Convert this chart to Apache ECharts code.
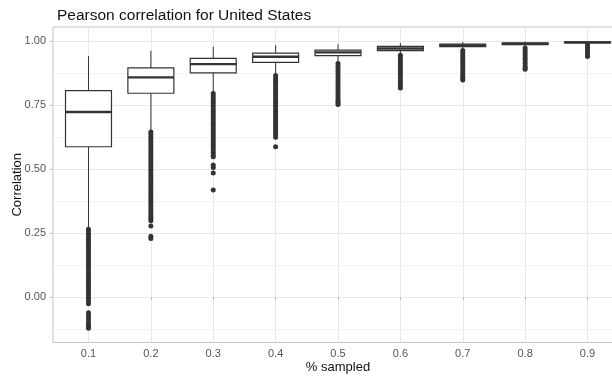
<!DOCTYPE html>
<html>
<head>
<meta charset="utf-8">
<script src="https://cdn.jsdelivr.net/npm/echarts@6/dist/echarts.min.js"></script>
<style>html,body{margin:0;padding:0;background:#fff}#c{width:612px;height:381px}</style>
</head>
<body>
<div id="c"></div>
<script>
const categories = [0.1, 0.2, 0.3, 0.4, 0.5, 0.6, 0.7, 0.8, 0.9];
const whiskerLow  = [0.270, 0.650, 0.800, 0.870, 0.915, 0.948, 0.966, 0.976, 0.987];
const q1          = [0.587, 0.796, 0.876, 0.917, 0.943, 0.963, 0.978, 0.986, 0.993];
const median      = [0.723, 0.858, 0.910, 0.939, 0.956, 0.971, 0.983, 0.989, 0.995];
const q3          = [0.806, 0.895, 0.932, 0.953, 0.965, 0.979, 0.988, 0.993, 0.997];
const whiskerHigh = [0.941, 0.962, 0.978, 0.984, 0.988, 0.992, 0.996, 0.998, 1.000];
const outliers = [
  [0.265,0.255,0.245,0.235,0.225,0.215,0.205,0.195,0.185,0.175,0.165,0.155,0.145,0.135,0.125,0.115,0.105,0.095,0.085,0.075,0.065,0.055,0.045,0.035,0.025,0.015,0.005,-0.005,-0.015,-0.027,-0.062,-0.072,-0.085,-0.098,-0.108,-0.115,-0.122],
  [0.645,0.635,0.625,0.615,0.605,0.595,0.585,0.575,0.565,0.555,0.545,0.535,0.525,0.515,0.505,0.495,0.485,0.475,0.465,0.455,0.445,0.435,0.425,0.415,0.405,0.395,0.385,0.375,0.365,0.355,0.345,0.335,0.325,0.315,0.307,0.298,0.277,0.237,0.228],
  [0.795,0.785,0.775,0.765,0.755,0.745,0.735,0.725,0.715,0.705,0.695,0.685,0.675,0.665,0.655,0.645,0.635,0.625,0.615,0.605,0.595,0.585,0.575,0.565,0.555,0.548,0.516,0.506,0.484,0.418],
  [0.865,0.855,0.845,0.835,0.825,0.815,0.805,0.795,0.785,0.775,0.765,0.755,0.745,0.735,0.725,0.715,0.705,0.695,0.685,0.675,0.665,0.655,0.645,0.635,0.624,0.587],
  [0.912,0.902,0.892,0.882,0.872,0.862,0.852,0.842,0.832,0.822,0.812,0.802,0.792,0.782,0.772,0.765,0.758,0.752],
  [0.945,0.935,0.925,0.915,0.905,0.895,0.885,0.875,0.865,0.855,0.845,0.835,0.825,0.817],
  [0.963,0.953,0.943,0.933,0.923,0.913,0.903,0.893,0.883,0.873,0.863,0.855,0.848],
  [0.973,0.963,0.953,0.943,0.933,0.923,0.913,0.903,0.895,0.890],
  [0.985,0.975,0.965,0.955,0.945,0.940]
];
const xTicks = [0.1, 0.2, 0.3, 0.4, 0.5, 0.6, 0.7, 0.8, 0.9];
const yTicks = [0, 0.25, 0.5, 0.75, 1.0];
const yMinorTicks = [-0.125, 0.125, 0.375, 0.625, 0.875];

const boxData = categories.map((c, i) => [c, whiskerLow[i], q1[i], median[i], q3[i], whiskerHigh[i]]);
const outlierData = [];
categories.forEach((c, i) => outliers[i].forEach(v => outlierData.push([c, v])));

const FONT = '"Liberation Sans", Arial, sans-serif';
const INK = '#333333';

const chart = echarts.init(document.getElementById('c'), null, {renderer: 'canvas'});
chart.setOption({
  animation: false,
  backgroundColor: '#ffffff',
  title: {
    text: 'Pearson correlation for United States',
    left: 52, top: 3,
    textStyle: {fontFamily: FONT, fontSize: 15.5, fontWeight: 'normal', color: '#111'}
  },
  grid: {
    left: 53, right: -11, top: 27, bottom: 38.5,
    outerBoundsMode: 'none', containLabel: false,
    show: true, borderColor: '#c4c4c4', borderWidth: 1, backgroundColor: '#fff'
  },
  xAxis: {
    type: 'value', min: 0.0431, max: 0.9569,
    name: '% sampled', nameLocation: 'middle', nameGap: 18, nameMoveOverlap: false,
    nameTextStyle: {fontFamily: FONT, fontSize: 13, color: '#111'},
    axisLine: {show: false},
    axisTick: {show: true, length: 3, lineStyle: {color: '#b8b8b8'}, customValues: xTicks},
    axisLabel: {customValues: xTicks, margin: 6, fontFamily: FONT, fontSize: 11, color: '#555',
      formatter: v => v.toFixed(1)},
    splitLine: {show: true, lineStyle: {color: '#e8e8e8', width: 1}}
  },
  yAxis: [{
    type: 'value', min: -0.178, max: 1.055,
    name: 'Correlation', nameLocation: 'middle', nameGap: 29, nameMoveOverlap: false,
    nameTextStyle: {fontFamily: FONT, fontSize: 13, color: '#111'},
    axisLine: {show: false},
    axisTick: {show: true, length: 3, lineStyle: {color: '#b8b8b8'}, customValues: yTicks},
    axisLabel: {customValues: yTicks, margin: 7, fontFamily: FONT, fontSize: 11, color: '#555',
      formatter: v => v.toFixed(2)},
    splitLine: {show: true, lineStyle: {color: '#e8e8e8', width: 1}}
  }, {
    type: 'value', min: -0.178, max: 1.055,
    axisLine: {show: false},
    axisTick: {show: false, customValues: yMinorTicks},
    axisLabel: {show: false, customValues: yMinorTicks},
    splitLine: {show: true, lineStyle: {color: '#f3f3f3', width: 1}}
  }],
  series: [{
    type: 'scatter',
    data: outlierData,
    symbol: 'circle', symbolSize: 5,
    itemStyle: {color: INK, opacity: 1},
    z: 3
  }, {
    type: 'custom',
    data: boxData,
    encode: {x: 0, y: [1, 2, 3, 4, 5]},
    z: 4,
    renderItem: function (params, api) {
      const x = api.value(0);
      const pLo = api.coord([x, api.value(1)]);
      const pQ1 = api.coord([x, api.value(2)]);
      const pMed = api.coord([x, api.value(3)]);
      const pQ3 = api.coord([x, api.value(4)]);
      const pHi = api.coord([x, api.value(5)]);
      const w = api.size([0.0737, 0])[0];
      const cx = pMed[0];
      return {
        type: 'group',
        children: [
          {type: 'line', shape: {x1: cx, y1: pHi[1], x2: cx, y2: pQ3[1]}, style: {stroke: INK, lineWidth: 1}},
          {type: 'line', shape: {x1: cx, y1: pQ1[1], x2: cx, y2: pLo[1]}, style: {stroke: INK, lineWidth: 1}},
          {type: 'rect', shape: {x: cx - w / 2, y: pQ3[1], width: w, height: pQ1[1] - pQ3[1]},
            style: {fill: '#ffffff', stroke: INK, lineWidth: 1.2}},
          {type: 'line', shape: {x1: cx - w / 2, y1: pMed[1], x2: cx + w / 2, y2: pMed[1]},
            style: {stroke: INK, lineWidth: 2.4}}
        ]
      };
    }
  }]
});
</script>
</body>
</html>
